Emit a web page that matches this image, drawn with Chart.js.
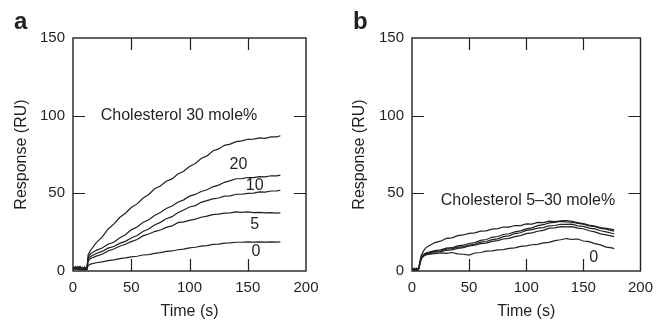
<!DOCTYPE html>
<html>
<head>
<meta charset="utf-8">
<script src="https://cdn.jsdelivr.net/npm/chart.js@4.4.1/dist/chart.umd.min.js"></script>
<style>
  html, body { margin: 0; padding: 0; background: #fff; }
  #wrap { position: relative; width: 661px; height: 320px; }
  .panel { position: absolute; top: 0; height: 320px; }
  #pa { left: 0; width: 330px; }
  #pb { left: 330px; width: 331px; }
</style>
</head>
<body>
<div id="wrap">
  <div class="panel" id="pa"><canvas id="chart-a"></canvas></div>
  <div class="panel" id="pb"><canvas id="chart-b"></canvas></div>
</div>
<script>
// ------------------------------------------------------------
// Data (time in s, response in RU)
// ------------------------------------------------------------
const xTicks = [0, 50, 100, 150, 200];
const yTicks = [0, 50, 100, 150];

// panel a : cholesterol 30 mole% membranes
const timeA = [0, 2, 4, 6, 8, 10, 12, 13, 15,
  20, 25, 30, 35, 40, 45, 50, 55, 60, 65, 70, 75, 80, 85, 90, 95,
  100, 105, 110, 115, 120, 125, 130, 135, 140, 145, 150, 155, 160, 165, 170, 175, 178];
const a30 = [1.5, 2.8, 0.8, 2.2, 1.2, 2.6, 1.8, 10.5, 13.2,
  18.3, 21.8, 26.9, 30.2, 34.4, 37.2, 40.9, 43.2, 46.8, 49.3, 52.9, 54.7, 57.8, 59.3, 62.4, 64.2,
  67.3, 69.2, 72.4, 74.1, 77.3, 78.6, 80.9, 81.7, 83.3, 83.8, 84.8, 84.9, 85.7, 85.4, 86.3, 86.4, 87.1];
const a20 = [0.8, 2.2, 1.6, 0.5, 2.4, 1.0, 2.0, 8.8, 11.2,
  13.3, 14.8, 17.2, 18.5, 21.2, 23.3, 26.5, 28.3, 31.2, 33.0, 35.7, 37.6, 40.2, 41.8, 44.3, 45.8,
  48.2, 49.3, 51.2, 52.3, 54.2, 55.3, 57.1, 58.2, 59.4, 59.5, 60.2, 60.1, 60.7, 60.6, 61.3, 61.3, 61.7];
const a10 = [2.4, 1.0, 2.9, 1.4, 0.6, 2.2, 1.3, 7.6, 9.4,
  11.3, 12.6, 14.7, 15.8, 17.8, 19.1, 21.2, 22.8, 25.4, 27.0, 29.6, 31.3, 33.6, 35.0, 37.5, 39.3,
  41.2, 42.1, 44.2, 45.3, 46.4, 47.0, 48.2, 48.4, 49.4, 49.4, 50.0, 50.1, 50.9, 50.8, 51.5, 51.6, 52.0];
const a5 = [1.2, 2.6, 1.8, 3.0, 1.5, 0.4, 2.2, 6.4, 8.1,
  9.6, 10.8, 12.9, 14.2, 15.9, 17.2, 18.9, 20.3, 22.6, 23.8, 25.4, 26.4, 28.1, 29.0, 31.1, 31.6,
  32.6, 33.4, 34.6, 35.3, 36.3, 36.6, 37.3, 37.4, 38.0, 37.8, 38.1, 37.6, 37.7, 37.4, 37.6, 37.3, 37.4];
const a0 = [0.6, 1.8, 0.9, 2.4, 1.1, 1.9, 0.8, 3.6, 4.4,
  5.3, 5.9, 6.7, 7.2, 8.0, 8.4, 9.1, 9.5, 10.3, 10.6, 11.4, 11.8, 12.6, 12.9, 13.7, 14.1,
  14.9, 15.3, 16.0, 16.3, 17.1, 17.3, 17.9, 18.1, 18.5, 18.5, 18.8, 18.6, 18.8, 18.6, 18.7, 18.6, 18.8];
const labelsA = [
  { x: 91, y: 100, text: "Cholesterol 30 mole%" },
  { x: 142, y: 68.6, text: "20" },
  { x: 156, y: 55.3, text: "10" },
  { x: 156, y: 30, text: "5" },
  { x: 157, y: 12.4, text: "0" },
];

// panel b : cholesterol 5-30 mole% membranes
const timeB = [0, 2, 4, 5, 6, 7, 8, 10, 12, 15,
  20, 25, 30, 35, 40, 45, 50, 55, 60, 65, 70, 75, 80, 85, 90, 95,
  100, 105, 110, 115, 120, 125, 130, 135, 140, 145, 150, 155, 160, 165, 170, 175, 177];
const b30 = [1.2, 0.4, 1.8, 0.8, 2.5, 6.5, 9.8, 12.8, 14.9, 16.2,
  18.3, 19.2, 21.0, 21.3, 22.8, 23.2, 24.2, 24.6, 25.7, 25.8, 27.0, 27.3, 28.3, 28.2, 29.3, 29.2,
  30.3, 30.2, 31.3, 31.2, 32.1, 31.8, 32.3, 32.5, 31.9, 31.2, 30.5, 29.6, 28.9, 28.0, 27.4, 26.8, 26.5];
const b20 = [0.3, 1.5, 0.6, 1.2, 2.0, 5.6, 8.6, 10.6, 11.6, 12.2,
  13.1, 13.6, 14.7, 15.0, 16.2, 16.6, 17.7, 18.3, 19.7, 20.3, 21.7, 22.2, 23.5, 24.0, 25.2, 25.8,
  27.1, 27.8, 29.2, 29.8, 31.0, 31.3, 32.0, 31.6, 31.4, 30.6, 30.2, 29.1, 28.6, 27.4, 27.0, 26.0, 25.7];
const b10 = [0.9, 0.2, 1.4, 0.5, 1.6, 5.2, 8.2, 10.1, 11.2, 11.5,
  12.6, 13.0, 14.1, 14.4, 15.4, 15.7, 16.7, 17.2, 18.6, 19.0, 20.2, 20.7, 22.1, 22.6, 24.1, 24.6,
  26.1, 26.6, 27.6, 27.9, 29.1, 29.3, 30.1, 30.0, 30.2, 29.1, 28.7, 27.6, 27.1, 25.9, 25.2, 24.3, 24.0];
const b5 = [0.5, 1.1, 0.2, 1.0, 1.4, 4.8, 7.8, 9.7, 10.7, 11.0,
  12.1, 12.4, 13.2, 13.6, 14.6, 15.0, 16.1, 16.6, 17.6, 18.0, 19.1, 19.6, 20.6, 21.0, 22.1, 22.8,
  24.1, 24.6, 25.6, 26.2, 27.6, 27.8, 28.6, 28.4, 28.6, 27.6, 27.2, 25.9, 25.2, 23.9, 23.2, 22.4, 22.1];
const b0 = [0.7, 1.9, 0.4, 1.3, 1.8, 4.6, 7.6, 9.6, 10.3, 10.9,
  11.2, 11.7, 11.4, 11.9, 11.0, 10.8, 10.2, 11.6, 11.9, 12.8, 12.9, 13.6, 13.8, 14.6, 14.9, 15.9,
  16.2, 16.9, 17.2, 18.1, 18.4, 19.6, 20.1, 20.9, 20.3, 20.6, 19.3, 18.9, 17.6, 16.8, 15.4, 14.9, 14.3];
const labelsB = [
  { x: 101.5, y: 45.5, text: "Cholesterol 5\u201330 mole%" },
  { x: 159, y: 8.8, text: "0" },
];

// ------------------------------------------------------------
// Style
// ------------------------------------------------------------
const FONT = '"Liberation Sans", Arial, Helvetica, sans-serif';
const INK = "#231f20";

Chart.defaults.font.family = FONT;
Chart.defaults.color = INK;

function pts(times, vals) {
  return vals.map((v, i) => ({ x: times[i], y: v }));
}

function mkSet(times, vals) {
  return {
    data: pts(times, vals),
    borderColor: INK,
    borderWidth: 1.2,
    pointRadius: 0,
    tension: 0,
    fill: false,
  };
}

// frame + inward ticks on all four sides, labels, panel letter
const framePlugin = {
  id: "frame",
  afterDraw(chart, args, opts) {
    const { ctx, chartArea: ca, scales } = chart;
    const sx = scales.x, sy = scales.y;
    ctx.save();
    ctx.strokeStyle = INK;
    ctx.lineWidth = 1.4;
    ctx.strokeRect(ca.left, ca.top, ca.right - ca.left, ca.bottom - ca.top);

    const len = 12;
    ctx.lineWidth = 1.2;
    ctx.beginPath();
    xTicks.slice(1, -1).forEach(v => {
      const px = Math.round(sx.getPixelForValue(v)) + 0.5;
      ctx.moveTo(px, ca.bottom); ctx.lineTo(px, ca.bottom - len);
      ctx.moveTo(px, ca.top);    ctx.lineTo(px, ca.top + len);
    });
    yTicks.slice(1, -1).forEach(v => {
      const py = Math.round(sy.getPixelForValue(v)) + 0.5;
      ctx.moveTo(ca.left, py);  ctx.lineTo(ca.left + len, py);
      ctx.moveTo(ca.right, py); ctx.lineTo(ca.right - len, py);
    });
    ctx.stroke();

    // curve labels
    ctx.fillStyle = INK;
    ctx.font = "16px " + FONT;
    ctx.textAlign = "center";
    ctx.textBaseline = "middle";
    (opts.labels || []).forEach(l => {
      ctx.fillText(l.text, sx.getPixelForValue(l.x), sy.getPixelForValue(l.y));
    });

    // panel letter
    ctx.font = "bold 24px " + FONT;
    ctx.textAlign = "left";
    ctx.textBaseline = "alphabetic";
    ctx.fillText(opts.letter, opts.letterX, 29);
    ctx.restore();
  },
};

function makeChart(canvasId, datasets, labels, letter, letterX, yWidth, padRight, yTitlePad) {
  return new Chart(document.getElementById(canvasId), {
    type: "line",
    data: { datasets },
    options: {
      responsive: true,
      maintainAspectRatio: false,
      animation: false,
      layout: { padding: { top: 38, right: padRight, bottom: 0, left: 0 } },
      plugins: {
        legend: { display: false },
        tooltip: { enabled: false },
        frame: { labels, letter, letterX },
      },
      scales: {
        x: {
          type: "linear",
          min: 0, max: 200,
          afterBuildTicks: s => { s.ticks = xTicks.map(v => ({ value: v })); },
          grid: { display: false, drawTicks: false },
          border: { display: false },
          ticks: { padding: 8, font: { size: 15 }, color: INK, maxRotation: 0 },
          title: { display: true, text: "Time (s)", font: { size: 16, lineHeight: 1 }, padding: 0, color: INK },
          afterFit: s => { s.height = 49; },
        },
        y: {
          type: "linear",
          min: 0, max: 150,
          afterBuildTicks: s => { s.ticks = yTicks.map(v => ({ value: v })); },
          grid: { display: false, drawTicks: false },
          border: { display: false },
          ticks: { padding: 8, font: { size: 15 }, color: INK },
          title: { display: true, text: "Response (RU)", font: { size: 16 }, padding: { top: yTitlePad, bottom: 0 }, color: INK },
          afterFit: s => { s.width = yWidth; },
        },
      },
    },
    plugins: [framePlugin],
  });
}

makeChart("chart-a",
  [mkSet(timeA, a30), mkSet(timeA, a20), mkSet(timeA, a10), mkSet(timeA, a5), mkSet(timeA, a0)],
  labelsA, "a", 14, 73, 24, 12);

makeChart("chart-b",
  [mkSet(timeB, b30), mkSet(timeB, b20), mkSet(timeB, b10), mkSet(timeB, b5), mkSet(timeB, b0)],
  labelsB, "b", 23, 82, 16, 20);
</script>
</body>
</html>
